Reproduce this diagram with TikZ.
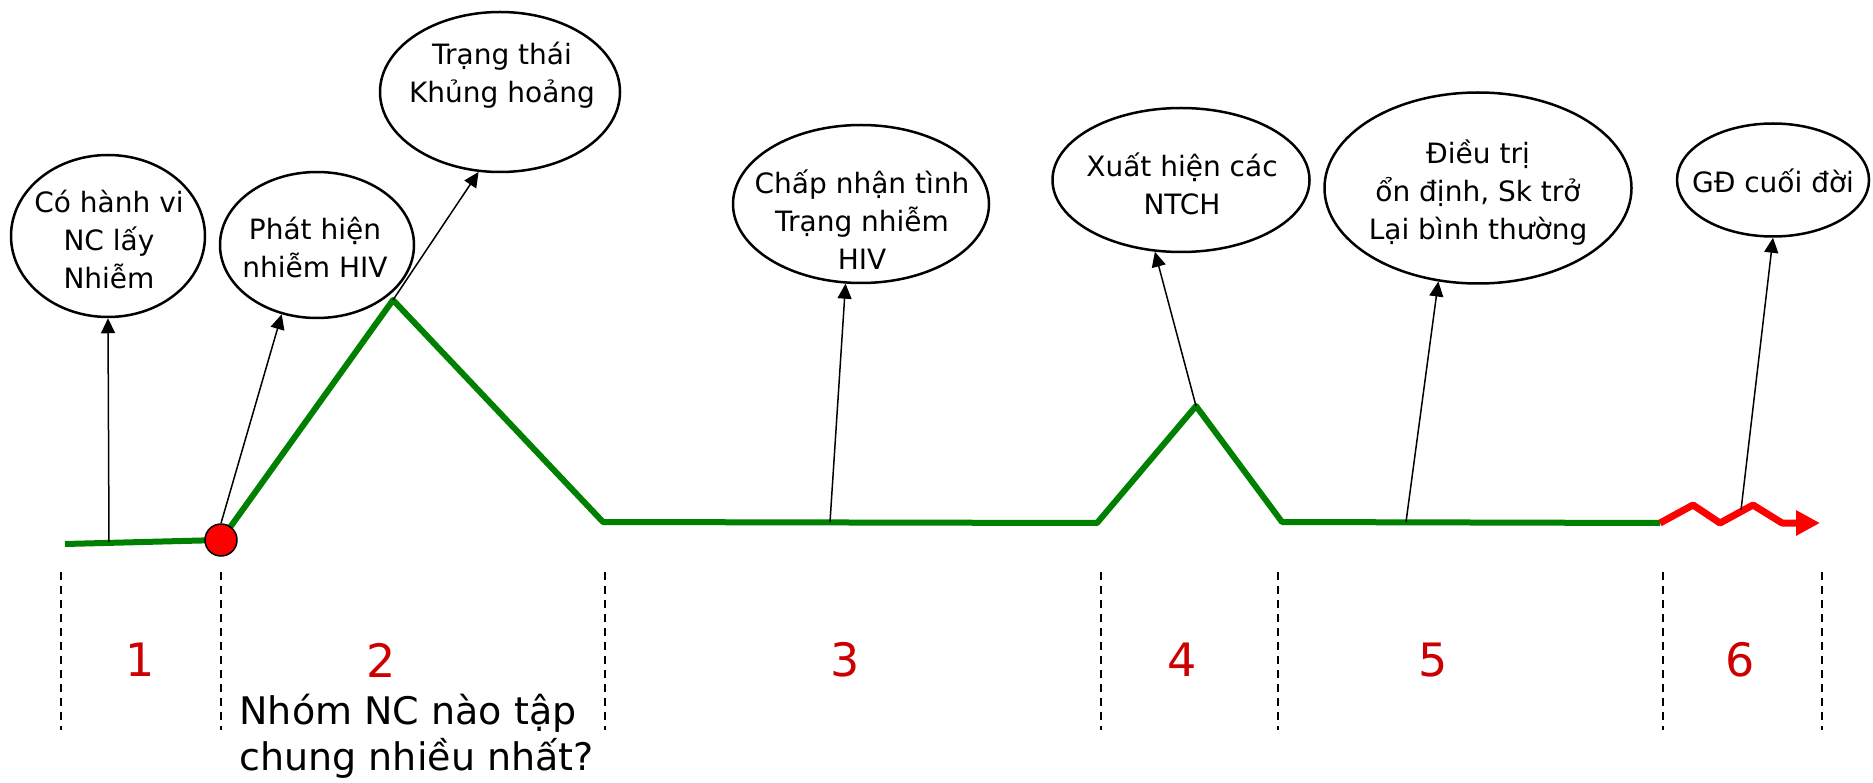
\documentclass[tikz,border=0pt]{standalone}
\usepackage{fontspec}
\setmainfont{DejaVu Sans}
\usetikzlibrary{arrows.meta,shapes.geometric}
\definecolor{lifegreen}{RGB}{0,128,0}
\definecolor{stagered}{RGB}{204,0,0}
\begin{document}
\begin{tikzpicture}[x=1pt, y=-1pt, line join=round, >={Triangle[length=15pt,width=14pt]},
    bubble/.style={ellipse, draw, line width=2.5pt, inner sep=0pt},
    btext/.style={align=center, font=\fontsize{28}{38}\selectfont},
    stage/.style={text=stagered, font=\fontsize{46}{46}\selectfont},
    divider/.style={line width=2pt, dash pattern=on 8pt off 6pt}]
    \useasboundingbox (0,0) rectangle (1873,783);
    % stages
    \foreach \x in {61,221,605,1101,1278,1663,1822}
        \draw[divider] (\x,572) -- (\x,730);
    \foreach \n/\x in {1/140,2/381,3/845,4/1182,5/1433,6/1740}
        \node[stage] (s\n) at (\x,660) {\n};
    \node[anchor=west, align=left, font=\fontsize{38}{46}\selectfont] (q) at (236,736)
        {Nhóm NC nào tập\\chung nhiều nhất?};
    % life line
    \draw[lifegreen, line width=6pt] (65,544) -- (221,540) -- (393,300) coordinate (p2)
        -- (603,522) -- (1097,523) -- (1196,406) coordinate (p4) -- (1282,522) -- (1660,523);
    \draw[red, line width=7pt, -{Triangle[length=24pt,width=24pt]}] (1660,523) -- (1693,505)
        -- (1720,523) -- (1753,505) -- (1782,523) -- (1820,523);
    \node[circle, fill=red, draw, line width=1.5pt, minimum size=32pt, inner sep=0pt] (dot) at (221,540) {};
    \coordinate (c1) at (109,542);
    \coordinate (c4) at (830,522);
    \coordinate (c6) at (1406,522);
    \coordinate (c7) at (1741,510);
    % bubbles
    \node[bubble, minimum width=194pt, minimum height=162pt] (e1) at (108,236) {};
    \node[bubble, minimum width=194pt, minimum height=146pt] (e2) at (317,245) {};
    \node[bubble, minimum width=240pt, minimum height=160pt] (e3) at (500,92) {};
    \node[bubble, minimum width=256pt, minimum height=158pt] (e4) at (861,204) {};
    \node[bubble, minimum width=257pt, minimum height=144pt] (e5) at (1181,180) {};
    \node[bubble, minimum width=307pt, minimum height=191pt] (e6) at (1478,188) {};
    \node[bubble, minimum width=192pt, minimum height=113pt] (e7) at (1773,180) {};
    \node[btext] (t1) at (109,240) {Có hành vi\\NC lấy\\Nhiễm};
    \node[btext] (t2) at (315,248) {Phát hiện\\nhiễm HIV};
    \node[btext] (t3) at (502,75) {Trạng thái\\Khủng hoảng};
    \node[btext] (t4) at (862,220) {Chấp nhận tình\\Trạng nhiễm\\HIV};
    \node[btext] (t5) at (1182,184) {Xuất hiện các\\NTCH};
    \node[btext] (t6) at (1478,193) {Điều trị\\ổn định, Sk trở\\Lại bình thường};
    \node[btext] (t7) at (1773,181) {GĐ cuối đời};
    % arrows
    \draw[->, line width=1.5pt] (c1) -- (e1.south);
    \draw[->, line width=1.5pt] (dot.north) -- (e2.-117);
    \draw[->, line width=1.5pt] (p2) -- (e3.-105);
    \draw[->, line width=1.5pt] (c4) -- (e4.-101);
    \draw[->, line width=1.5pt] (p4) -- (e5.-110);
    \draw[->, line width=1.5pt] (c6) -- (e6.-113);
    \draw[->, line width=1.5pt] (c7) -- (e7.south);
\end{tikzpicture}
\end{document}
